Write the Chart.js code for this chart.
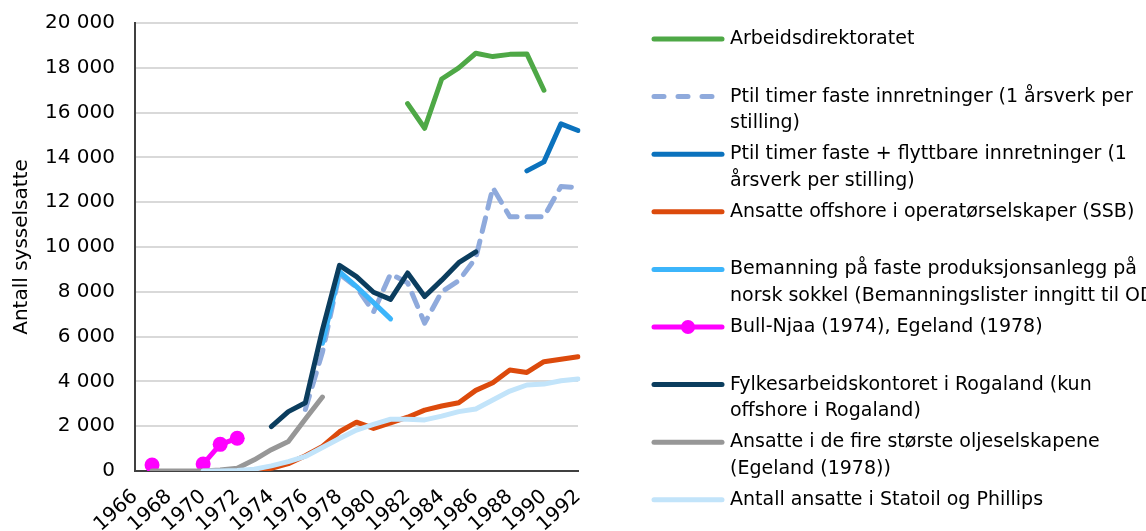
<!DOCTYPE html>
<html>
<head>
<meta charset="utf-8">
<script src="https://cdn.jsdelivr.net/npm/chart.js@4"></script>
<style>
  html, body { margin: 0; padding: 0; background: #fff; }
  #wrap { width: 1146px; height: 531px; }
</style>
</head>
<body>
<div id="wrap"><canvas id="chartLinjer" width="1146" height="531"></canvas></div>
<script>
// år 1966-1992
const aar = [];
for (let a = 1966; a <= 1992; a++) aar.push(String(a));

const N = null;
const arbeidsdir =   [N,N,N,N,N,N,N,N,N,N,N,N,N,N,N,N, 16400,15300,17500,18000,18650,18500,18600,18620,17000,N,N];
const ptilFaste =    [N,N,N,N,N,N,N,N,N,N, 2750,5300,8800,8200,7100,8800,8400,6600,8000,8500,9500,12650,11350,11350,11350,12700,12650];
const ptilFlyttbare =[N,N,N,N,N,N,N,N,N,N,N,N,N,N,N,N,N,N,N,N,N,N,N, 13400,13800,15500,15200];
const ansatteSSB =   [N,N,N,N,N,N,N, 0,120,330,680,1100,1750,2180,1900,2150,2400,2720,2900,3050,3600,3940,4510,4400,4880,4990,5100];
const bemanning =    [N,N,N,N,N,N,N,N,N,N,N, 5700,8900,8230,7520,6790,N,N,N,N,N,N,N,N,N,N,N];
const bullNjaa =     [N,270,N,N,310,1190,1460,N,N,N,N,N,N,N,N,N,N,N,N,N,N,N,N,N,N,N,N];
const fylkesarb =    [N,N,N,N,N,N,N,N, 1980,2650,3050,6300,9180,8680,7980,7660,8840,7790,8520,9300,9780,N,N,N,N,N,N];
const fireStorste =  [N,0,0,0,0,50,120,500,950,1320,2320,3300,N,N,N,N,N,N,N,N,N,N,N,N,N,N,N];
const statoilPhil =  [N,N,N,N,0,0,20,80,230,420,650,1050,1450,1830,2080,2310,2310,2280,2450,2650,2770,3170,3570,3840,3880,4030,4110];

const navn = [
  "Arbeidsdirektoratet",
  "Ptil timer faste innretninger (1 årsverk per\nstilling)",
  "Ptil timer faste + flyttbare innretninger (1\nårsverk per stilling)",
  "Ansatte offshore i operatørselskaper (SSB)",
  "Bemanning på faste produksjonsanlegg på\nnorsk sokkel (Bemanningslister inngitt til OD)",
  "Bull-Njaa (1974), Egeland (1978)",
  "Fylkesarbeidskontoret i Rogaland (kun\noffshore i Rogaland)",
  "Ansatte i de fire største oljeselskapene\n(Egeland (1978))",
  "Antall ansatte i Statoil og Phillips"
];
const serier = [arbeidsdir, ptilFaste, ptilFlyttbare, ansatteSSB, bemanning, bullNjaa, fylkesarb, fireStorste, statoilPhil];
const farger = ["#4EA846", "#8FAADC", "#0B72BD", "#DC4A0C", "#3CB5FB", "#FF00FF", "#0B3D5E", "#979797", "#C2E4FA"];

const FONT = "'DejaVu Sans', sans-serif";

function tusen(v) {
  return String(v).replace(/\B(?=(\d{3})+(?!\d))/g, " ");
}

const datasets = serier.map((d, i) => ({
  label: navn[i],
  data: d,
  borderColor: farger[i],
  backgroundColor: farger[i],
  borderWidth: 5,
  borderDash: i === 1 ? [14, 10] : [],
  borderCapStyle: "round",
  borderJoinStyle: "round",
  pointRadius: i === 5 ? 7.5 : 0,
  pointHoverRadius: i === 5 ? 7.5 : 0,
  pointBorderWidth: 0,
  tension: 0,
  spanGaps: false,
  order: serier.length - i
}));

// egen legende til høyre
const legendePlugin = {
  id: "legende",
  afterDraw(chart) {
    const c = chart.ctx;
    c.save();
    c.font = "19px " + FONT;
    c.fillStyle = "#000";
    c.textBaseline = "middle";
    c.textAlign = "left";
    chart.data.datasets.forEach((ds, i) => {
      const y = 39 + i * 57.6;
      c.strokeStyle = ds.borderColor;
      c.lineWidth = 5;
      c.lineCap = "round";
      c.setLineDash(i === 1 ? [10, 14] : []);
      c.beginPath();
      c.moveTo(654, y);
      c.lineTo(722, y);
      c.stroke();
      c.setLineDash([]);
      if (i === 5) {
        c.fillStyle = ds.borderColor;
        c.beginPath();
        c.arc(688, y, 7, 0, Math.PI * 2);
        c.fill();
        c.fillStyle = "#000";
      }
      ds.label.split("\n").forEach((linje, j) => {
        c.fillText(linje, 730, y + j * 26.5);
      });
    });
    c.restore();
  }
};

new Chart(document.getElementById("chartLinjer"), {
  type: "line",
  data: { labels: aar, datasets },
  plugins: [legendePlugin],
  options: {
    responsive: false,
    animation: false,
    layout: { padding: { left: 0, top: 23, right: 568, bottom: 0 } },
    plugins: {
      legend: { display: false },
      tooltip: { enabled: false }
    },
    scales: {
      x: {
        offset: false,
        grid: { display: false, drawTicks: false },
        border: { color: "#404040", width: 2 },
        afterFit: s => { s.height = 60; },
        ticks: {
          autoSkip: false,
          minRotation: 42,
          maxRotation: 42,
          padding: 14,
          color: "#000",
          font: { family: FONT, size: 20 },
          callback: (v, i) => (i % 2 === 0 ? aar[i] : "")
        }
      },
      y: {
        min: 0,
        max: 20000,
        grid: { color: "#D9D9D9", lineWidth: 2, drawTicks: true, tickLength: 18, tickColor: "rgba(0,0,0,0)" },
        border: { color: "#404040", width: 2 },
        afterFit: s => { s.width = 135; },
        title: {
          display: true,
          text: "Antall sysselsatte",
          color: "#000",
          font: { family: FONT, size: 20 },
          padding: { top: 10, bottom: 0 }
        },
        ticks: {
          stepSize: 2000,
          padding: 2,
          color: "#000",
          font: { family: FONT, size: 20 },
          callback: v => tusen(v)
        }
      }
    }
  }
});
</script>
</body>
</html>
